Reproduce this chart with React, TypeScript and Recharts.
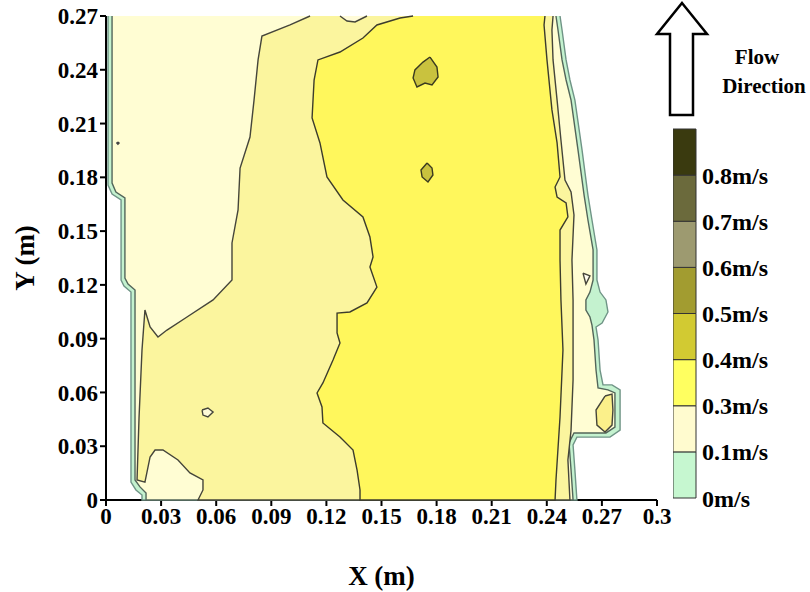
import { Bar, BarChart, Label, Scatter, ScatterChart, XAxis, YAxis } from "recharts"

type Pt = { x: number; y: number }

const SERIF = '"Liberation Serif", "Times New Roman", serif'

const xTicks = [0, 0.03, 0.06, 0.09, 0.12, 0.15, 0.18, 0.21, 0.24, 0.27, 0.3]
const yTicks = [0, 0.03, 0.06, 0.09, 0.12, 0.15, 0.18, 0.21, 0.24, 0.27]

// outer edge of measured field (0 m/s contour)
const fieldEdge: Pt[] = [
  { x: 0.0011, y: 0.27 }, { x: 0.0011, y: 0.1757 }, { x: 0.0033, y: 0.1707 }, { x: 0.0082, y: 0.1674 },
  { x: 0.0082, y: 0.1227 }, { x: 0.0098, y: 0.1194 }, { x: 0.0136, y: 0.116 }, { x: 0.0136, y: 0.01 },
  { x: 0.0163, y: 0.0056 }, { x: 0.0196, y: 0.0028 }, { x: 0.0196, y: 0 }, { x: 0.2564, y: 0 },
  { x: 0.2553, y: 0.0167 }, { x: 0.2543, y: 0.0307 }, { x: 0.2564, y: 0.0351 }, { x: 0.2744, y: 0.0351 },
  { x: 0.2799, y: 0.039 }, { x: 0.2799, y: 0.0614 }, { x: 0.2755, y: 0.0642 }, { x: 0.2706, y: 0.0642 },
  { x: 0.269, y: 0.0725 }, { x: 0.2679, y: 0.0893 }, { x: 0.2668, y: 0.0965 }, { x: 0.2701, y: 0.0987 },
  { x: 0.2733, y: 0.1049 }, { x: 0.2722, y: 0.1116 }, { x: 0.269, y: 0.116 }, { x: 0.2673, y: 0.1227 },
  { x: 0.2673, y: 0.1395 }, { x: 0.2646, y: 0.1562 }, { x: 0.2624, y: 0.1701 }, { x: 0.2592, y: 0.1952 },
  { x: 0.2553, y: 0.2231 }, { x: 0.2526, y: 0.2343 }, { x: 0.2505, y: 0.2455 }, { x: 0.2483, y: 0.2622 },
  { x: 0.2472, y: 0.27 },
]

// 0.1 m/s contour
const contour01: Pt[] = [
  { x: 0.0033, y: 0.27 }, { x: 0.0033, y: 0.1768 }, { x: 0.0054, y: 0.1718 }, { x: 0.0103, y: 0.1685 },
  { x: 0.0103, y: 0.1238 }, { x: 0.012, y: 0.1205 }, { x: 0.0158, y: 0.1171 }, { x: 0.0158, y: 0.0112 },
  { x: 0.0185, y: 0.0073 }, { x: 0.0218, y: 0.0039 }, { x: 0.0218, y: 0 }, { x: 0.2543, y: 0 },
  { x: 0.2532, y: 0.0167 }, { x: 0.2521, y: 0.0318 }, { x: 0.2548, y: 0.0374 }, { x: 0.2722, y: 0.0374 },
  { x: 0.2771, y: 0.0407 }, { x: 0.2771, y: 0.0597 }, { x: 0.2733, y: 0.0614 }, { x: 0.2679, y: 0.0625 },
  { x: 0.2668, y: 0.0725 }, { x: 0.2657, y: 0.0893 }, { x: 0.2646, y: 0.0976 }, { x: 0.2635, y: 0.1021 },
  { x: 0.2613, y: 0.106 }, { x: 0.2613, y: 0.1116 }, { x: 0.2635, y: 0.116 }, { x: 0.2652, y: 0.1227 },
  { x: 0.2652, y: 0.1395 }, { x: 0.2624, y: 0.1562 }, { x: 0.2603, y: 0.1701 }, { x: 0.257, y: 0.1952 },
  { x: 0.2532, y: 0.2231 }, { x: 0.2505, y: 0.2343 }, { x: 0.2483, y: 0.2455 }, { x: 0.2461, y: 0.2622 },
  { x: 0.245, y: 0.27 },
]

// 0.3 m/s contour
const contour03: Pt[] = [
  { x: 0.1111, y: 0.27 }, { x: 0.1002, y: 0.265 }, { x: 0.0849, y: 0.2588 }, { x: 0.0828, y: 0.2455 },
  { x: 0.0806, y: 0.2231 }, { x: 0.0784, y: 0.2025 }, { x: 0.073, y: 0.1852 }, { x: 0.0719, y: 0.1618 },
  { x: 0.0686, y: 0.1434 }, { x: 0.0686, y: 0.1227 }, { x: 0.0583, y: 0.1116 }, { x: 0.0441, y: 0.1021 },
  { x: 0.0332, y: 0.0948 }, { x: 0.0283, y: 0.0909 }, { x: 0.024, y: 0.0965 }, { x: 0.0212, y: 0.106 },
  { x: 0.0196, y: 0.0837 }, { x: 0.018, y: 0.0463 }, { x: 0.0169, y: 0.0112 }, { x: 0.0212, y: 0.01 },
  { x: 0.024, y: 0.024 }, { x: 0.0267, y: 0.0279 }, { x: 0.031, y: 0.0279 }, { x: 0.0392, y: 0.0223 },
  { x: 0.0457, y: 0.0151 }, { x: 0.0528, y: 0.0112 }, { x: 0.0528, y: 0.0056 }, { x: 0.0501, y: 0 },
  { x: 0.2526, y: 0 }, { x: 0.2515, y: 0.0223 }, { x: 0.2532, y: 0.039 }, { x: 0.2543, y: 0.0669 },
  { x: 0.2543, y: 0.1116 }, { x: 0.2537, y: 0.1339 }, { x: 0.2548, y: 0.159 }, { x: 0.2532, y: 0.1718 },
  { x: 0.2499, y: 0.1785 }, { x: 0.2477, y: 0.2008 }, { x: 0.2456, y: 0.2231 }, { x: 0.2434, y: 0.2455 },
  { x: 0.2428, y: 0.2622 }, { x: 0.2434, y: 0.27 },
]

// 0.4 m/s contour
const contour04: Pt[] = [
  { x: 0.1672, y: 0.27 }, { x: 0.1601, y: 0.2689 }, { x: 0.1475, y: 0.265 }, { x: 0.1399, y: 0.2577 },
  { x: 0.1274, y: 0.2499 }, { x: 0.1154, y: 0.2455 }, { x: 0.1133, y: 0.2343 }, { x: 0.1122, y: 0.2131 },
  { x: 0.1165, y: 0.1992 }, { x: 0.1203, y: 0.1802 }, { x: 0.129, y: 0.1674 }, { x: 0.1399, y: 0.1579 },
  { x: 0.1437, y: 0.1467 }, { x: 0.1454, y: 0.1356 }, { x: 0.1437, y: 0.13 }, { x: 0.1475, y: 0.1188 },
  { x: 0.1421, y: 0.1099 }, { x: 0.1328, y: 0.1049 }, { x: 0.1258, y: 0.1043 }, { x: 0.1258, y: 0.0932 },
  { x: 0.1274, y: 0.0876 }, { x: 0.1236, y: 0.0781 }, { x: 0.1181, y: 0.0653 }, { x: 0.1149, y: 0.0597 },
  { x: 0.1176, y: 0.0519 }, { x: 0.1181, y: 0.043 }, { x: 0.1274, y: 0.0351 }, { x: 0.1345, y: 0.0279 },
  { x: 0.1367, y: 0.0167 }, { x: 0.1383, y: 0.0056 }, { x: 0.1383, y: 0 }, { x: 0.2445, y: 0 },
  { x: 0.245, y: 0.0112 }, { x: 0.2472, y: 0.0463 }, { x: 0.2488, y: 0.0837 }, { x: 0.2477, y: 0.1116 },
  { x: 0.2472, y: 0.1339 }, { x: 0.2472, y: 0.1506 }, { x: 0.2515, y: 0.1579 }, { x: 0.2505, y: 0.1657 },
  { x: 0.2456, y: 0.169 }, { x: 0.2445, y: 0.1746 }, { x: 0.2472, y: 0.1802 }, { x: 0.2456, y: 0.1992 },
  { x: 0.2428, y: 0.2176 }, { x: 0.2401, y: 0.2455 }, { x: 0.2385, y: 0.265 }, { x: 0.239, y: 0.27 },
]

// 0.5 m/s islands
const island1: Pt[] = [
  { x: 0.1764, y: 0.2471 }, { x: 0.1802, y: 0.2415 }, { x: 0.1808, y: 0.236 }, { x: 0.1775, y: 0.2315 },
  { x: 0.1737, y: 0.2326 }, { x: 0.1693, y: 0.2304 }, { x: 0.1672, y: 0.2354 }, { x: 0.1682, y: 0.2399 },
  { x: 0.1726, y: 0.2443 }, { x: 0.1764, y: 0.2471 },
]
const island2: Pt[] = [
  { x: 0.1748, y: 0.188 }, { x: 0.1775, y: 0.1852 }, { x: 0.178, y: 0.1813 }, { x: 0.1753, y: 0.1774 },
  { x: 0.1721, y: 0.1802 }, { x: 0.1715, y: 0.1841 }, { x: 0.1748, y: 0.188 },
]

// small closed loops
const loopLow: Pt[] = [
  { x: 0.0523, y: 0.0502 }, { x: 0.0555, y: 0.0513 }, { x: 0.0583, y: 0.0491 }, { x: 0.0555, y: 0.0463 },
  { x: 0.0528, y: 0.0474 }, { x: 0.0523, y: 0.0502 },
]
const loopTop: Pt[] = [
  { x: 0.1274, y: 0.27 }, { x: 0.1312, y: 0.2672 }, { x: 0.1356, y: 0.2667 }, { x: 0.1421, y: 0.27 },
]
const loopRight: Pt[] = [
  { x: 0.2597, y: 0.1266 }, { x: 0.2635, y: 0.125 }, { x: 0.2613, y: 0.1205 }, { x: 0.2597, y: 0.1266 },
]
const bumpRight: Pt[] = [
  { x: 0.2717, y: 0.058 }, { x: 0.2755, y: 0.0591 }, { x: 0.276, y: 0.0502 }, { x: 0.2755, y: 0.0418 },
  { x: 0.2717, y: 0.0379 }, { x: 0.2673, y: 0.0418 }, { x: 0.2668, y: 0.0502 }, { x: 0.2717, y: 0.058 },
]
const dotLeft: Pt[] = [
  { x: 0.0065, y: 0.1997 }, { x: 0.0071, y: 0.1991 }, { x: 0.0065, y: 0.1985 }, { x: 0.0059, y: 0.1991 },
  { x: 0.0065, y: 0.1997 },
]

const legendLabels = ["0m/s", "0.1m/s", "0.3m/s", "0.4m/s", "0.5m/s", "0.6m/s", "0.7m/s", "0.8m/s"]
const legendColors = ["#c6f7d0", "#fffbcf", "#ffff60", "#d2ca32", "#a29c30", "#9d9a70", "#6b6a3c", "#3a3a0f"]
const legendTicks = [0, 1, 2, 3, 4, 5, 6, 7]

const layers = [
  { key: "edge", data: fieldEdge, fill: "#c4f2cf", stroke: "#6f9486" },
  { key: "c01", data: contour01, fill: "#fffdd3", stroke: "#53665a" },
  { key: "c03", data: contour03, fill: "#fbf59e", stroke: "#45453a" },
  { key: "c04", data: contour04, fill: "#fff75c", stroke: "#3c3c2c" },
  { key: "i1", data: island1, fill: "#c9c23e", stroke: "#3a3a20" },
  { key: "i2", data: island2, fill: "#c9c23e", stroke: "#3a3a20" },
  { key: "l1", data: loopLow, fill: "#fffbd8", stroke: "#45453a" },
  { key: "l2", data: loopTop, fill: "#fffbd8", stroke: "#45453a" },
  { key: "l3", data: loopRight, fill: "#fffdf0", stroke: "#45453a" },
  { key: "b1", data: bumpRight, fill: "#fbf08a", stroke: "#45453a" },
  { key: "d1", data: dotLeft, fill: "#444", stroke: "#444" },
]

const tickStyle = { fill: "#000", fontSize: 23, fontWeight: 700, fontFamily: SERIF }
const axisStroke = { stroke: "#000", strokeWidth: 2 }

const legendRow = legendColors.reduce<Record<string, number | string>>(
  (row, _c, i) => {
    row[`b${i}`] = 1
    return row
  },
  { name: "v" }
)

export default function App() {
  return (
    <div style={{ position: "absolute", left: 0, top: 0, width: 810, height: 592, background: "#fff" }}>
      <div style={{ position: "absolute", left: 0, top: 0 }}>
        <ScatterChart width={810} height={592} margin={{ top: 16, right: 153, bottom: 0, left: 6 }}>
          {layers.map((l) => (
            <Scatter
              key={l.key}
              data={l.data}
              isAnimationActive={false}
              fill={l.fill}
              shape={() => <g />}
              line={{ fill: l.fill, stroke: l.stroke, strokeWidth: 1.4 }}
            />
          ))}
          <XAxis
            type="number"
            dataKey="x"
            domain={[0, 0.3]}
            ticks={xTicks}
            interval={0}
            height={92}
            axisLine={axisStroke}
            tickLine={axisStroke}
            tick={tickStyle}
          >
            <Label
              content={({ viewBox }: any) => (
                <text
                  x={viewBox.x + viewBox.width / 2}
                  y={viewBox.y + 85}
                  textAnchor="middle"
                  fontSize={27}
                  fontWeight={700}
                  fontFamily={SERIF}
                  fill="#000"
                >
                  X (m)
                </text>
              )}
            />
          </XAxis>
          <YAxis
            type="number"
            dataKey="y"
            domain={[0, 0.27]}
            ticks={yTicks}
            interval={0}
            width={100}
            axisLine={axisStroke}
            tickLine={axisStroke}
            tick={tickStyle}
          >
            <Label
              content={({ viewBox }: any) => {
                const cx = viewBox.x + 19
                const cy = viewBox.y + viewBox.height / 2
                return (
                  <text
                    x={cx}
                    y={cy}
                    transform={`rotate(-90, ${cx}, ${cy})`}
                    textAnchor="middle"
                    dominantBaseline="central"
                    fontSize={27}
                    fontWeight={700}
                    fontFamily={SERIF}
                    fill="#000"
                  >
                    Y (m)
                  </text>
                )
              }}
            />
          </YAxis>
          <XAxis
            xAxisId="top"
            orientation="top"
            type="number"
            domain={[0, 0.3]}
            height={0}
            tick={false}
            tickLine={false}
            axisLine={axisStroke}
          />
          <YAxis
            yAxisId="right"
            orientation="right"
            type="number"
            domain={[0, 0.27]}
            width={0}
            tick={false}
            tickLine={false}
            axisLine={axisStroke}
          />
        </ScatterChart>
      </div>

      <div style={{ position: "absolute", left: 673, top: 109 }}>
        <BarChart
          width={137}
          height={414}
          data={[legendRow]}
          margin={{ top: 20, right: 0, bottom: 25, left: 0 }}
          barCategoryGap={0}
        >
          <XAxis dataKey="name" hide />
          <YAxis
            orientation="right"
            type="number"
            domain={[0, 8]}
            ticks={legendTicks}
            interval={0}
            width={114}
            axisLine={false}
            tickLine={false}
            tickSize={0}
            tickMargin={6}
            tick={{ ...tickStyle, fontSize: 24, textAnchor: "start" }}
            tickFormatter={(v: number) => legendLabels[v]}
          />
          {legendColors.map((c, i) => (
            <Bar
              key={c}
              dataKey={`b${i}`}
              stackId="bar"
              fill={c}
              stroke="#333"
              strokeWidth={1}
              isAnimationActive={false}
            />
          ))}
        </BarChart>
      </div>

      <svg width={810} height={592} style={{ position: "absolute", left: 0, top: 0, pointerEvents: "none" }}>
        <polygon
          points="682,3 707,34 693,34 693,115 670,115 670,34 657,34"
          fill="#fff"
          stroke="#000"
          strokeWidth={2.5}
          strokeLinejoin="miter"
        />
        <text x={757} y={64} textAnchor="middle" fontSize={21} fontWeight={700} fontFamily={SERIF} fill="#000">
          Flow
        </text>
        <text x={764} y={93} textAnchor="middle" fontSize={21} fontWeight={700} fontFamily={SERIF} fill="#000">
          Direction
        </text>
      </svg>
    </div>
  )
}
